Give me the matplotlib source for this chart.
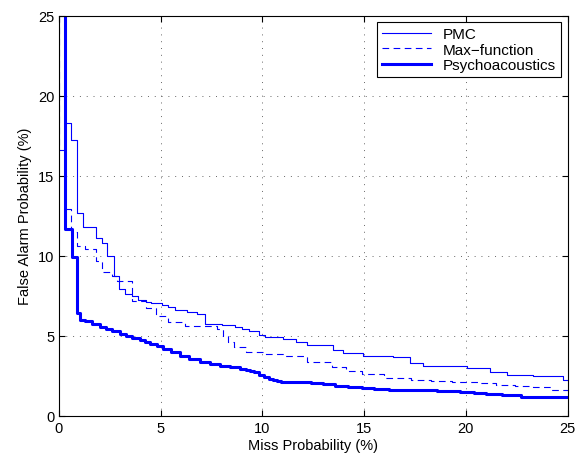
import matplotlib.pyplot as plt

plt.rcParams['font.family'] = ['Liberation Sans', 'DejaVu Sans']

# step curves, (miss %, false alarm %)
pmc_x = [0.3, 0.3, 0.59, 0.88, 1.2, 1.8, 2.1, 2.37, 2.69, 2.97, 3.24, 3.6, 3.9, 4.26,
         4.5, 5.05, 5.38, 5.7, 6.28, 6.77, 7.18, 8.0, 8.65, 8.98, 9.35, 9.85, 10.13,
         11.0, 11.65, 12.18, 13.49, 13.98, 14.96, 16.44, 17.26, 17.91, 20.04, 21.19,
         22.01, 23.32, 24.79, 25.0]
pmc_y = [25, 18.3, 17.25, 12.65, 11.8, 11.1, 10.8, 10.0, 8.76, 7.93, 7.6, 7.5, 7.26, 7.14,
         7.05, 6.9, 6.8, 6.63, 6.47, 6.37, 5.75, 5.65, 5.54, 5.42, 5.3, 5.05, 4.95,
         4.8, 4.64, 4.43, 4.12, 3.91, 3.76, 3.66, 3.29, 3.1, 2.98, 2.77,
         2.56, 2.48, 2.27, 2.27]

max_x = [0.02, 0.02, 0.28, 0.6, 0.88, 1.3, 1.8, 2.1, 2.6, 2.85, 3.6, 4.3, 4.75, 5.35,
         6.2, 7.75, 8.05, 8.3, 8.6, 9.2, 10.1, 11.1, 12.18, 13.4, 14.1, 14.9, 16.0,
         17.3, 18.3, 19.3, 20.6, 21.5, 22.4, 23.3, 24.2, 25.0]
max_y = [25, 16.6, 12.9, 11.5, 10.6, 10.4, 9.7, 9.0, 8.75, 8.4, 7.2, 6.72, 6.22, 5.89,
         5.6, 5.43, 5.0, 4.6, 4.29, 4.01, 3.87, 3.77, 3.38, 3.04, 2.83, 2.62, 2.35,
         2.27, 2.21, 2.1, 2.04, 1.94, 1.9, 1.8, 1.64, 1.64]

psy_x = [0.3, 0.3, 0.65, 0.9, 1.05, 1.3, 1.6, 2.0, 2.3, 2.6, 3.0, 3.3, 3.6, 4.0, 4.25,
         4.47, 4.8, 5.13, 5.5, 5.95, 6.4, 6.93, 7.4, 7.9, 8.4, 8.9, 9.2, 9.4, 9.59, 9.84,
         10.08, 10.3, 10.5, 10.7, 10.9, 11.6, 12.4, 13.0, 13.57, 14.2, 14.9, 15.5, 16.2,
         17.4, 18.56, 19.7, 20.4, 21.0, 21.8, 22.7, 23.55, 25.0]
psy_y = [25, 11.7, 9.9, 6.4, 6.0, 5.9, 5.75, 5.55, 5.4, 5.3, 5.1, 5.0, 4.9, 4.75, 4.65,
         4.49, 4.35, 4.18, 4.0, 3.75, 3.55, 3.37, 3.25, 3.14, 3.03, 2.93, 2.88, 2.83, 2.73,
         2.55, 2.41, 2.33, 2.27, 2.2, 2.14, 2.1, 2.06, 1.98, 1.89, 1.83, 1.77, 1.7, 1.64,
         1.61, 1.58, 1.52, 1.45, 1.37, 1.28, 1.2, 1.17, 1.17]

fig = plt.figure(figsize=(5.75, 4.6), dpi=100)
ax = fig.add_axes([0.1026, 0.0935, 0.8844, 0.8705])

ax.plot(pmc_x, pmc_y, color='b', lw=0.8, drawstyle='steps-post', label='PMC')
ax.plot(max_x, max_y, color='b', lw=0.8, ls=(0, (6, 4)), drawstyle='steps-post',
        label='Max\u2212function')
ax.plot(psy_x, psy_y, color='b', lw=2.2, drawstyle='steps-post', label='Psychoacoustics')

ax.set_xlim(0, 25)
ax.set_ylim(0, 25)
ax.set_xticks([0, 5, 10, 15, 20, 25])
ax.set_yticks([0, 5, 10, 15, 20, 25])
ax.tick_params(direction='in', top=True, right=True, labelsize=10.5, length=4)
ax.grid(True, color='k', ls=(0, (1, 6)), lw=0.7, alpha=0.6)
for s in ax.spines.values():
    s.set_linewidth(0.8)

ax.set_xlabel('Miss Probability (%)', fontsize=10.5, labelpad=2)
ax.set_ylabel('False Alarm Probability (%)', fontsize=10.5, labelpad=4)

leg = ax.legend(loc='upper right', fontsize=11, fancybox=False, framealpha=1,
                edgecolor='k', handlelength=3.2, borderaxespad=0.45,
                labelspacing=0.1, borderpad=0.3)
leg.get_frame().set_linewidth(0.8)

fig.savefig('out.png', dpi=100)
